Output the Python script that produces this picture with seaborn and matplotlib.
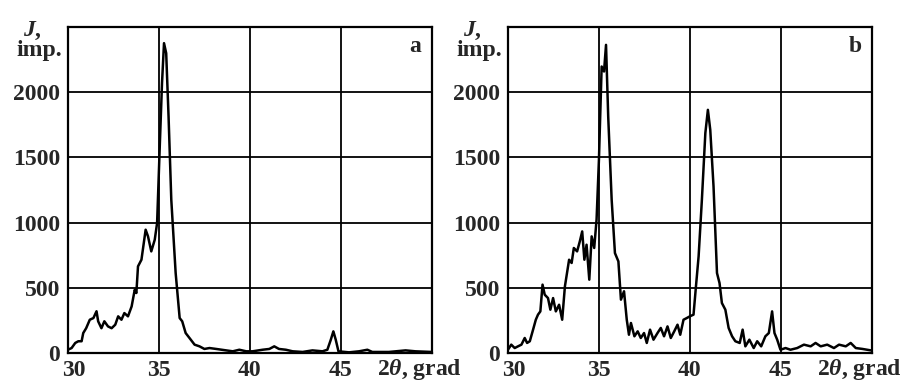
import matplotlib
matplotlib.use('Agg')
import matplotlib.pyplot as plt
import matplotlib.transforms as mtransforms
import seaborn as sns

# Diffractogram a
theta_a = [30.0, 30.2, 30.4, 30.57, 30.75, 30.84, 31.0, 31.2, 31.4, 31.57, 31.66, 31.84,
           32.0, 32.2, 32.4, 32.6, 32.76, 32.94, 33.1, 33.3, 33.5, 33.67, 33.76, 33.85,
           34.04, 34.27, 34.4, 34.58, 34.77, 34.9, 35.04, 35.17, 35.28, 35.4, 35.53, 35.68,
           35.92, 36.14, 36.28, 36.47, 36.68, 36.96, 37.23, 37.5, 37.78, 38.15, 38.7, 39.06,
           39.42, 39.8, 40.15, 40.7, 41.07, 41.34, 41.6, 41.98, 42.35, 42.9, 43.44, 43.99,
           44.26, 44.45, 44.59, 44.72, 44.87, 45.45, 46.0, 46.46, 46.73, 47.64, 48.56, 49.1, 50.0]
imp_a = [25, 38, 77, 90, 90, 153, 190, 255, 268, 320, 243, 190,
         243, 204, 190, 217, 281, 255, 306, 281, 357, 485, 460, 664,
         715, 945, 894, 779, 868, 996, 1558, 2069, 2375, 2298, 1813, 1175,
         613, 268, 243, 153, 115, 64, 51, 31, 38, 31, 20, 13,
         25, 13, 13, 25, 31, 51, 31, 25, 13, 8, 20, 13,
         25, 102, 166, 102, 13, 5, 13, 25, 8, 8, 20, 13, 8]

# Diffractogram b
theta_b = [30.0, 30.18, 30.37, 30.55, 30.74, 30.92, 31.05, 31.2, 31.38, 31.53, 31.65, 31.78,
           31.9, 32.02, 32.2, 32.33, 32.48, 32.63, 32.81, 32.98, 33.13, 33.36, 33.5, 33.62,
           33.8, 33.95, 34.08, 34.2, 34.32, 34.47, 34.6, 34.74, 34.87, 35.0, 35.15, 35.28,
           35.39, 35.51, 35.7, 35.88, 36.07, 36.21, 36.38, 36.53, 36.65, 36.76, 36.95, 37.13,
           37.3, 37.48, 37.63, 37.81, 38.0, 38.22, 38.4, 38.58, 38.77, 38.95, 39.14, 39.32,
           39.47, 39.65, 39.83, 40.0, 40.2, 40.35, 40.48, 40.66, 40.85, 40.99, 41.12, 41.3,
           41.49, 41.63, 41.76, 41.95, 42.13, 42.32, 42.5, 42.74, 42.9, 43.05, 43.27, 43.51,
           43.7, 43.92, 44.15, 44.34, 44.52, 44.65, 44.8, 44.98, 45.26, 45.53, 45.9, 46.27,
           46.64, 46.91, 47.19, 47.55, 47.92, 48.2, 48.57, 48.84, 49.12, 49.49, 49.95]
imp_b = [25, 64, 38, 51, 64, 115, 77, 90, 179, 255, 294, 319,
         524, 447, 421, 332, 421, 319, 370, 255, 511, 715, 690, 805,
         779, 856, 932, 715, 830, 562, 894, 805, 1022, 1481, 2196, 2158,
         2362, 1813, 1175, 766, 702, 409, 473, 255, 140, 230, 128, 166,
         115, 153, 77, 179, 102, 153, 192, 128, 204, 115, 166, 217,
         140, 255, 268, 281, 294, 536, 741, 1175, 1686, 1864, 1711, 1277,
         613, 536, 383, 332, 192, 128, 90, 77, 179, 51, 102, 38,
         90, 51, 128, 153, 319, 153, 102, 25, 38, 25, 38, 64,
         51, 77, 51, 64, 38, 64, 51, 77, 38, 31, 20]

x_ticks = [30, 35, 40, 45]
y_ticks = [0, 500, 1000, 1500, 2000]
panels = [('a', theta_a, imp_a), ('b', theta_b, imp_b)]

sns.set_style('white')
plt.rcParams['font.family'] = ['Liberation Serif', 'DejaVu Serif']
plt.rcParams['font.weight'] = 'bold'
plt.rcParams['mathtext.fontset'] = 'custom'
plt.rcParams['mathtext.rm'] = 'Liberation Serif:bold'
plt.rcParams['mathtext.it'] = 'Liberation Serif:italic:bold'
plt.rcParams['mathtext.bf'] = 'Liberation Serif:bold'

fig = plt.figure(figsize=(9.05, 3.81), dpi=100)
lefts = [0.0751, 0.5613]
fs = 17

for left, (letter, x, y) in zip(lefts, panels):
    ax = fig.add_axes([left, 0.0735, 0.402, 0.856])
    sns.lineplot(x=x, y=y, ax=ax, color='black', linewidth=1.8)
    ax.set_xlim(30, 50)
    ax.set_ylim(0, 2500)
    ax.set_xticks(x_ticks)
    ax.set_yticks(y_ticks)
    ax.set_xticklabels([str(t) for t in x_ticks])
    ax.set_yticklabels([str(t) for t in y_ticks])
    ax.tick_params(axis='y', direction='out', length=4, width=1.3, color='black',
                   labelsize=fs, pad=1.5)
    ax.tick_params(axis='x', direction='out', length=2, width=1.3, color='black',
                   labelsize=fs, pad=3)
    for lab in ax.get_xticklabels() + ax.get_yticklabels():
        lab.set_fontweight('bold')
    # nudge the first x label right so it clears the "0"
    first = ax.get_xticklabels()[0]
    first.set_transform(first.get_transform() +
                        mtransforms.ScaledTranslation(4 / 72, 0, fig.dpi_scale_trans))
    ax.grid(True, color='black', linewidth=1.3)
    for s in ax.spines.values():
        s.set_color('black')
        s.set_linewidth(1.6)
    ax.set_xlabel('')
    ax.set_ylabel('')
    ax.text(0.849, -0.066, r'$\mathit{2\theta}$, grad', transform=ax.transAxes,
            ha='left', va='baseline', fontsize=fs, fontweight='bold')
    ax.text(-0.097, 0.972, r'$J$,', transform=ax.transAxes, ha='center', va='baseline',
            fontsize=fs, fontweight='bold')
    ax.text(-0.016, 0.91, 'imp.', transform=ax.transAxes, ha='right', va='baseline',
            fontsize=fs, fontweight='bold')
    ax.text(0.955, 0.94, letter, transform=ax.transAxes, ha='center', va='center',
            fontsize=fs, fontweight='bold')

fig.savefig('out.png', dpi=100)
